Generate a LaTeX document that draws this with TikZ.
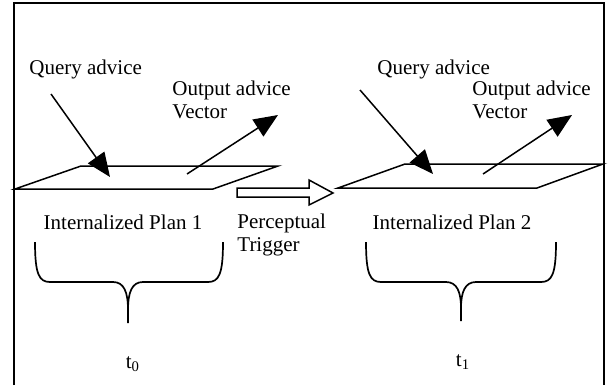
\documentclass[tikz,border=0pt]{standalone}
\usepackage{fontspec}
\setmainfont{Liberation Serif}
\usepackage{tikz}
\usetikzlibrary{arrows.meta,positioning,calc}
\tikzset{
  lbl/.style    ={inner sep=0pt,font=\fontsize{10.5}{11.5}\selectfont},
  plane/.style  ={line width=0.75pt,line join=miter},
  advice/.style ={-{Triangle[length=12pt,width=10pt]},line width=0.75pt},
  trigarrow/.style={line width=0.75pt,fill=white},
  bracket/.style={line width=0.85pt},
  frame/.style  ={line width=1pt}
}

\begin{document}
\begin{tikzpicture}[x=0.5pt,y=-0.5pt]
  \useasboundingbox (0,0) rectangle (613,385);
  \draw[frame] (14,385) -- (14,3) -- (604,3) -- (604,385);
  % plan at t0
  \coordinate (p1bl) at (15,189);  \coordinate (p1br) at (213,189);
  \coordinate (p1tr) at (278,166); \coordinate (p1tl) at (81,166);
  \draw[plane] (p1bl) -- (p1br) -- (p1tr) -- (p1tl) -- cycle;
  % plan at t1
  \coordinate (p2bl) at (338,188); \coordinate (p2br) at (537,188);
  \coordinate (p2tr) at (603,164); \coordinate (p2tl) at (405,164);
  \draw[plane] (p2bl) -- (p2br) -- (p2tr) -- (p2tl) -- cycle;
  % labels (base of a two-line node is its last line)
  \node[lbl,anchor=base west] (qa1) at (29,75) {Query advice};
  \node[lbl,anchor=base west,align=left] (oa1) at (172,118) {Output advice\\Vector};
  \node[lbl,anchor=base west] (qa2) at (377,75) {Query advice};
  \node[lbl,anchor=base west,align=left] (oa2) at (472,118) {Output advice\\Vector};
  \node[lbl,anchor=base] (plan1) at (123,229) {Internalized Plan 1};
  \node[lbl,anchor=base] (plan2) at (452,229) {Internalized Plan 2};
  \node[lbl,anchor=base west,align=left] (trig) at (237,251) {Perceptual\\Trigger};
  \node[lbl,anchor=base] (t0) at (133,368) {t\textsubscript{0}};
  \node[lbl,anchor=base] (t1) at (463,366) {t\textsubscript{1}};
  % advice vectors
  \coordinate (q1s) at (51,94);   \coordinate (q1e) at (110,177);
  \coordinate (o1s) at (187,174); \coordinate (o1e) at (278,115);
  \coordinate (q2s) at (360,90);  \coordinate (q2e) at (433,174);
  \coordinate (o2s) at (483,174); \coordinate (o2e) at (572,115);
  \draw[advice] (q1s) -- (q1e);
  \draw[advice] (o1s) -- (o1e);
  \draw[advice] (q2s) -- (q2e);
  \draw[advice] (o2s) -- (o2e);
  % perceptual trigger arrow
  \draw[trigarrow] (237,188) -- (309,188) -- (309,180) -- (333,193)
    -- (309,205) -- (309,197) -- (237,197) -- cycle;
  % braces
  \draw[bracket] (35,242) .. controls (35,274) and (39,282) .. (50,282) -- (113,282)
    .. controls (124,282) and (128,292) .. (128,310) -- (128,323);
  \draw[bracket] (128,310) .. controls (128,292) and (132,282) .. (143,282) -- (208,282)
    .. controls (219,282) and (223,274) .. (223,242);
  \draw[bracket] (366,242) .. controls (366,274) and (370,282) .. (381,282) -- (446,282)
    .. controls (457,282) and (461,292) .. (461,308) -- (461,321);
  \draw[bracket] (461,308) .. controls (461,292) and (465,282) .. (476,282) -- (541,282)
    .. controls (552,282) and (556,274) .. (556,242);
\end{tikzpicture}
\end{document}
